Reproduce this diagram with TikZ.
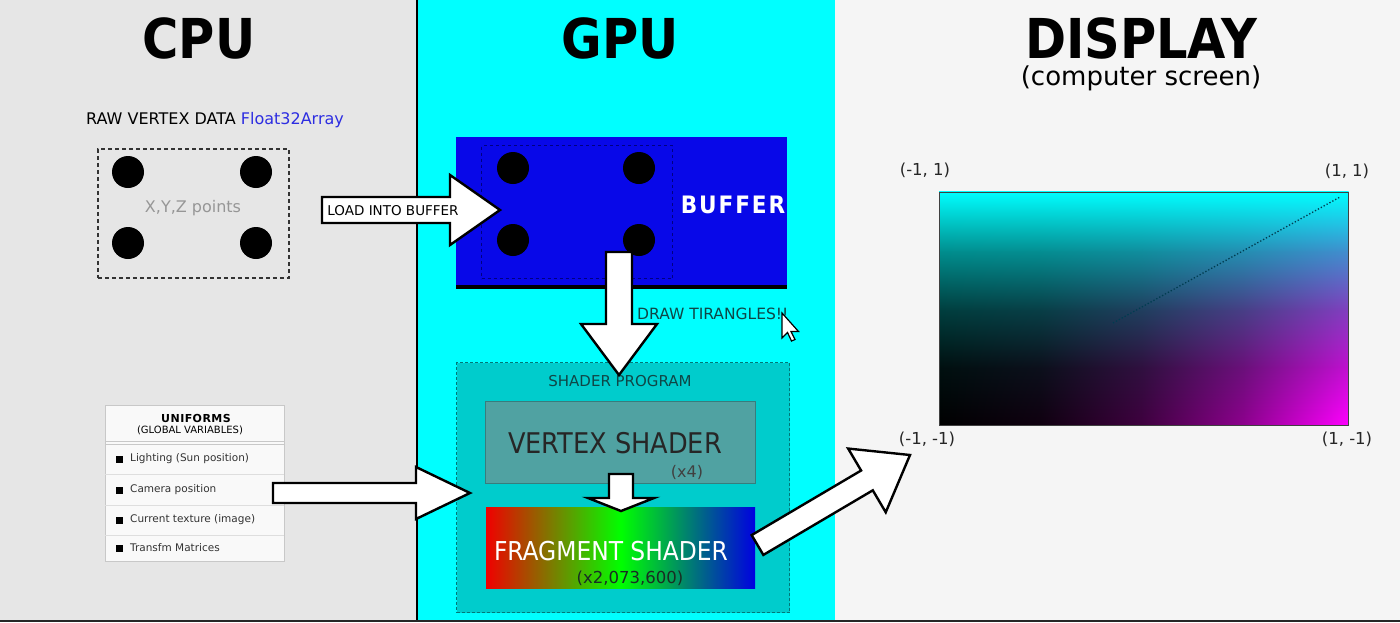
\documentclass[tikz,border=0pt]{standalone}
\usepackage{fontspec}
\setmainfont{DejaVu Sans}
\newfontfamily\cond{DejaVu Sans Condensed}
\usetikzlibrary{calc,shadings}
\definecolor{cpubg}{RGB}{230,230,230}
\definecolor{gpubg}{RGB}{0,255,255}
\definecolor{dispbg}{RGB}{245,245,245}
\definecolor{bufblue}{RGB}{8,8,232}
\definecolor{bufdash}{RGB}{0,0,130}
\definecolor{progbg}{RGB}{0,204,204}
\definecolor{progborder}{RGB}{0,120,120}
\definecolor{vsbg}{RGB}{80,162,162}
\definecolor{vsborder}{RGB}{55,125,125}
\definecolor{darkteal}{RGB}{15,70,70}
\definecolor{arrayblue}{RGB}{45,45,225}
\definecolor{ptgray}{RGB}{150,150,150}
\definecolor{tabborder}{RGB}{200,200,200}
\definecolor{tabline}{RGB}{222,222,222}
\definecolor{tabfill}{RGB}{249,249,249}
\definecolor{fsred}{RGB}{240,0,0}
\definecolor{fsgreen}{RGB}{0,255,0}
\definecolor{fsblue}{RGB}{0,0,225}
\definecolor{fsdark}{RGB}{25,45,35}
\definecolor{diag}{RGB}{0,60,80}
\tikzset{
  txt/.style={font=\fontsize{#1}{#1}\selectfont, inner sep=0pt},
  ctxt/.style={font=\cond\fontsize{#1}{#1}\selectfont, inner sep=0pt},
  header/.style={font=\cond\fontsize{55}{60}\selectfont\bfseries, inner sep=0pt},
  barrow/.style={draw=black, fill=white, line width=2.4pt, line join=miter},
  vdot/.style={circle, fill=black, minimum size=32pt, inner sep=0pt},
  box/.style={inner sep=0pt, anchor=north west},
  bullet/.style={fill=black, minimum size=7pt, inner sep=0pt},
}
\newcommand\blockarrow[6][]{%
  \path ($(#3)!#6!(#2)$) coordinate (ba-h);
  \draw[barrow,#1] ($(#2)!#4!90:(#3)$) -- ($(ba-h)!#4!90:(#3)$) -- ($(ba-h)!#5!90:(#3)$)
    -- (#3) -- ($(ba-h)!#5!-90:(#3)$) -- ($(ba-h)!#4!-90:(#3)$) -- ($(#2)!#4!-90:(#3)$) -- cycle;
}
% colour of the screen at (u,v), u from left, v from bottom
\newcommand\ndccolor[3]{%
  \pgfmathsetmacro\ndR{(#2)*(#2)*(1-(#3))}%
  \pgfmathsetmacro\ndG{(#3)*(#3)}%
  \pgfmathsetmacro\ndB{min(1,(#3)*(#3)+(#2)*(#2)*(1-(#3)))}%
  \definecolor{#1}{rgb}{\ndR,\ndG,\ndB}}
\begin{document}
\begin{tikzpicture}[x=1pt,y=-1pt]
\useasboundingbox (0,0) rectangle (1400,622);
% panels
\fill[cpubg] (0,0) rectangle (417,622);
\fill[gpubg] (417,0) rectangle (835,622);
\fill[dispbg] (835,0) rectangle (1400,622);
\draw[line width=2.5pt] (417,0) -- (417,622);
\draw[line width=2pt, black!85] (0,621) -- (1400,621);
% headers
\node[header] (cpu) at (199,38) {CPU};
\node[header] (gpu) at (620,38) {GPU};
\node[align=center, inner sep=0pt, anchor=north, font=\fontsize{10}{24}\selectfont] (display) at (1141,17)
  {{\cond\fontsize{55}{60}\selectfont\bfseries DISPLAY}\\[3pt]{\fontsize{26}{24}\selectfont (computer screen)}};
% CPU raw data
\node[txt=16, anchor=west] (raw) at (86,120) {RAW VERTEX DATA \textcolor{arrayblue}{Float32Array}};
\node[draw=black!80, line width=1.5pt, dash pattern=on 4pt off 3pt, minimum width=191pt, minimum height=129pt, box] (rawbox) at (97,148) {};
\node[txt=16, text=ptgray] (xyz) at (193,208) {X,Y,Z points};
\node[vdot] (c1) at (128,172) {};
\node[vdot] (c2) at (256,172) {};
\node[vdot] (c3) at (128,243) {};
\node[vdot] (c4) at (256,243) {};
% uniforms table
\node[draw=tabborder, fill=tabfill, line width=1pt, minimum width=179pt, minimum height=156pt, box] (unif) at (105,405) {};
\node[font=\fontsize{11}{11}\selectfont\bfseries\addfontfeature{LetterSpace=4}, inner sep=0pt] (uhead) at (196,418) {UNIFORMS};
\node[txt=10] (uhead2) at (190,430) {(GLOBAL VARIABLES)};
\draw[tabborder, line width=1pt] (105,441) -- (284,441) (105,444) -- (284,444);
\draw[tabline, line width=1pt] (105,474) -- (284,474) (105,505) -- (284,505) (105,535) -- (284,535);
\node[bullet] (b1) at (119.5,459) {};
\node[bullet] (b2) at (119.5,490) {};
\node[bullet] (b3) at (119.5,520) {};
\node[bullet] (b4) at (119.5,548) {};
\node[txt=10.5, text=black!80, anchor=west] (u1) at (130,459) {Lighting (Sun position)};
\node[txt=10.5, text=black!80, anchor=west] (u2) at (130,490) {Camera position};
\node[txt=10.5, text=black!80, anchor=west] (u3) at (130,520) {Current texture (image)};
\node[txt=10.5, text=black!80, anchor=west] (u4) at (130,548) {Transfm Matrices};
% GPU buffer
\node[fill=bufblue, minimum width=331pt, minimum height=151pt, box] (buffer) at (456,137) {};
\draw[line width=4pt] (456,287) -- (787,287);
\node[draw=bufdash, line width=1.2pt, dash pattern=on 3pt off 3pt, minimum width=191pt, minimum height=133pt, box] (bufpts) at (481,145) {};
\node[vdot] (g1) at (513,168) {};
\node[vdot] (g2) at (639,168) {};
\node[vdot] (g3) at (513,240) {};
\node[vdot] (g4) at (639,240) {};
\node[font=\cond\fontsize{24}{24}\selectfont\bfseries\addfontfeature{LetterSpace=8}, text=white, inner sep=0pt] (buflbl) at (733,205) {BUFFER};
% shader program
\node[fill=progbg, draw=progborder, line width=1pt, dash pattern=on 3pt off 2pt, minimum width=333pt, minimum height=250pt, box] (prog) at (456,362) {};
\node[txt=15, text=darkteal] (proglbl) at (620,381) {SHADER PROGRAM};
\node[fill=vsbg, draw=vsborder, line width=1pt, minimum width=270pt, minimum height=82pt, box] (vs) at (485,401) {};
\node[ctxt=28.5, text=black!85] (vslbl) at (615,443) {VERTEX SHADER};
\node[txt=16, text=black!75] (vsx) at (687,472) {(x4)};
\node[left color=fsred, right color=fsblue, middle color=fsgreen, minimum width=269pt, minimum height=81pt, box] (fs) at (486,507) {};
\node[ctxt=26, text=white] (fslbl) at (611,551) {FRAGMENT SHADER};
\node[txt=16.5, text=fsdark] (fsx) at (630,578) {(x2,073,600)};
% display screen: 4x4 patches of bilinear shading
\foreach \i in {0,...,3} {
  \foreach \j in {0,...,3} {
    \pgfmathsetmacro\ua{\i/4}\pgfmathsetmacro\ub{(\i+1)/4}
    \pgfmathsetmacro\va{\j/4}\pgfmathsetmacro\vb{(\j+1)/4}
    \ndccolor{cLL}{\ua}{\va}\ndccolor{cUL}{\ua}{\vb}
    \ndccolor{cUR}{\ub}{\vb}\ndccolor{cLR}{\ub}{\va}
    \pgfmathsetmacro\xa{939+409*\ua-(\i>0)*0.6}\pgfmathsetmacro\xb{939+409*\ub+0.6}
    \pgfmathsetmacro\ya{425-233*\va+0.6}\pgfmathsetmacro\yb{425-233*\vb-0.6}
    \shade[shading=bilinear interpolation, lower left=cLL, upper left=cUL, upper right=cUR, lower right=cLR] (\xa,\ya) rectangle (\xb,\yb);
  }
}
\node[draw=black!75, line width=1pt, minimum width=409pt, minimum height=233pt, box] (screen) at (939,192) {};
\coordinate (diagA) at (1113,323);
\coordinate (diagB) at (1340,197);
\draw[diag, line width=1.3pt, dotted] (diagA) -- (diagB);
\node[txt=16.5, text=black!85] (ul) at (925,170) {(-1, 1)};
\node[txt=16.5, text=black!85] (ur) at (1347,171) {(1, 1)};
\node[txt=16.5, text=black!85] (ll) at (927,439) {(-1, -1)};
\node[txt=16.5, text=black!85] (lr) at (1347,439) {(1, -1)};
% arrows
\coordinate (loadS) at (322,210);
\coordinate (loadE) at (500,210);
\blockarrow{loadS}{loadE}{13pt}{35pt}{50pt}
\node[txt=13.5] (loadtxt) at (393,211) {LOAD INTO BUFFER};
\coordinate (drawS) at (619,252);
\coordinate (drawE) at (619,375);
\blockarrow{drawS}{drawE}{13pt}{38pt}{51pt}
\node[txt=15.5, text=darkteal, anchor=west] (drawlbl) at (637,314) {DRAW TIRANGLES!!};
\coordinate (vfS) at (621,474);
\coordinate (vfE) at (621,511);
\blockarrow{vfS}{vfE}{12pt}{33pt}{13pt}
\coordinate (uS) at (273,493);
\coordinate (uE) at (470,493);
\blockarrow{uS}{uE}{10pt}{26pt}{54pt}
\coordinate (dS) at (757.5,545);
\coordinate (dE) at (910,455);
\blockarrow{dS}{dE}{11.5pt}{37pt}{50pt}
% mouse cursor
\draw[fill=white, line width=1.2pt, line join=miter] (782,313) -- ++(0,25) -- ++(5.5,-5.5) -- ++(4,8.5) -- ++(3.5,-1.5) -- ++(-4,-8) -- ++(7.5,0) -- cycle;
\end{tikzpicture}
\end{document}
